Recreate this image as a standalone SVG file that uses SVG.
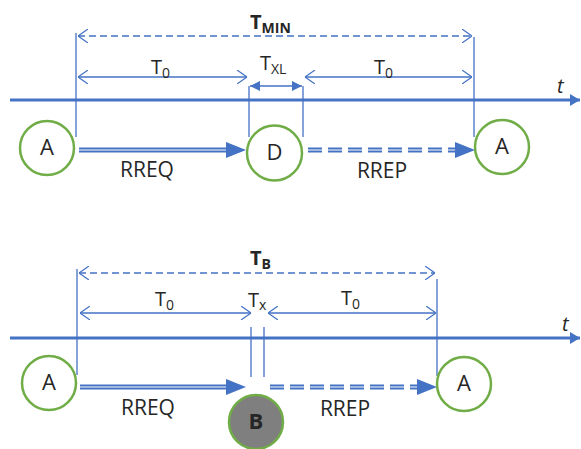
<svg xmlns="http://www.w3.org/2000/svg" width="581" height="449" viewBox="0 0 581 449">
<defs>
<marker id="open" viewBox="0 0 10 14" refX="10" refY="7" markerWidth="10" markerHeight="14" markerUnits="userSpaceOnUse" orient="auto-start-reverse">
<path d="M0,0 L10,7 L0,14" fill="none" stroke="#4472C4" stroke-width="1.2"/>
</marker>
<marker id="fill" viewBox="0 0 10 10" refX="10" refY="5" markerWidth="10" markerHeight="10" markerUnits="userSpaceOnUse" orient="auto-start-reverse">
<path d="M0,0 L10,5 L0,10 Z" fill="#4472C4"/>
</marker>
<marker id="axis" viewBox="0 0 10 12" refX="10" refY="6" markerWidth="10" markerHeight="12" markerUnits="userSpaceOnUse" orient="auto">
<path d="M0,0 L10,6 L0,12 Z" fill="#4472C4"/>
</marker>
</defs>
<style>
.axis{stroke:#4472C4;stroke-width:3;fill:none}
.thin{stroke:#4472C4;stroke-width:1.3;fill:none}
.dash{stroke:#4472C4;stroke-width:1.3;fill:none;stroke-dasharray:7,4}
.dbl{stroke:#4472C4;stroke-width:1.8;fill:none}
.node{fill:#fff;stroke:#70AD47;stroke-width:2.5}
.gray{fill:#7F7F7F;stroke:#70AD47;stroke-width:2.5}
text{font-family:"Open Sans","Liberation Sans",sans-serif;fill:#262626}
.lbl{font-size:21px;text-anchor:middle}
.nd{font-size:22px;text-anchor:middle}
.tl{font-size:20px}
.bold{font-weight:bold}
.sub{font-size:14px}
</style>
<g id="connectors">
<line class="axis" x1="10" y1="100" x2="580" y2="100" marker-end="url(#axis)"/>
<line class="thin" x1="76" y1="33" x2="76" y2="137"/>
<line class="thin" x1="249" y1="86" x2="249" y2="137"/>
<line class="thin" x1="303" y1="86" x2="303" y2="137"/>
<line class="thin" x1="474" y1="37" x2="474" y2="137"/>
<line class="dash" x1="78" y1="36" x2="472" y2="36" marker-start="url(#open)" marker-end="url(#open)"/>
<line class="thin" x1="78" y1="77" x2="247" y2="77" marker-start="url(#open)" marker-end="url(#open)"/>
<line class="thin" x1="305" y1="77" x2="472" y2="77" marker-start="url(#open)" marker-end="url(#open)"/>
<line class="thin" x1="250" y1="86" x2="302" y2="86" stroke-width="2" marker-start="url(#fill)" marker-end="url(#fill)"/>
<g>
<line class="dbl" x1="79" y1="148.5" x2="230" y2="148.5"/>
<line class="dbl" x1="79" y1="151.5" x2="230" y2="151.5"/>
<path d="M226,142 L246,150 L226,158 Z" fill="#4472C4"/>
</g>
<g>
<line class="dbl" x1="308" y1="148.5" x2="460" y2="148.5" stroke-dasharray="14,6"/>
<line class="dbl" x1="308" y1="151.5" x2="460" y2="151.5" stroke-dasharray="14,6"/>
<path d="M455,142 L475,150 L455,158 Z" fill="#4472C4"/>
</g>
<line class="axis" x1="10" y1="338" x2="580" y2="338" marker-end="url(#axis)"/>
<line class="thin" x1="77" y1="269" x2="77" y2="375"/>
<line class="thin" x1="251" y1="327" x2="251" y2="377"/>
<line class="thin" x1="264" y1="327" x2="264" y2="377"/>
<line class="thin" x1="437" y1="279" x2="437" y2="376"/>
<line class="dash" x1="79" y1="273" x2="435" y2="273" marker-start="url(#open)" marker-end="url(#open)"/>
<line class="thin" x1="80" y1="313" x2="251" y2="313" marker-start="url(#open)" marker-end="url(#open)"/>
<line class="thin" x1="268" y1="313" x2="436" y2="313" marker-start="url(#open)" marker-end="url(#open)"/>
<g>
<line class="dbl" x1="80" y1="385.5" x2="230" y2="385.5"/>
<line class="dbl" x1="80" y1="388.5" x2="230" y2="388.5"/>
<path d="M226,379 L246,387 L226,395 Z" fill="#4472C4"/>
</g>
<g>
<line class="dbl" x1="270" y1="385.5" x2="422" y2="385.5" stroke-dasharray="14,6"/>
<line class="dbl" x1="270" y1="388.5" x2="422" y2="388.5" stroke-dasharray="14,6"/>
<path d="M417,379 L437,387 L417,395 Z" fill="#4472C4"/>
</g>
</g>
<g id="labels">
<text x="250" y="29" class="tl bold">T<tspan class="sub bold" dy="4">MIN</tspan></text>
<text x="151" y="74" class="tl">T<tspan class="sub" dy="4">0</tspan></text>
<text x="260" y="70" class="tl">T<tspan class="sub" dy="4">XL</tspan></text>
<text x="374" y="74" class="tl">T<tspan class="sub" dy="4">0</tspan></text>
<text x="557" y="93" font-size="20" font-style="italic">t</text>
<text class="lbl" x="147" y="177">RREQ</text>
<text class="lbl" x="382" y="178">RREP</text>
<text x="250" y="265" class="tl bold">T<tspan class="sub bold" dy="4">B</tspan></text>
<text x="155" y="306" class="tl">T<tspan class="sub" dy="4">0</tspan></text>
<text x="248" y="307" class="tl">T<tspan class="sub" dy="3">x</tspan></text>
<text x="341" y="305" class="tl">T<tspan class="sub" dy="4">0</tspan></text>
<text x="562" y="331" font-size="20" font-style="italic">t</text>
<text class="lbl" x="148" y="415">RREQ</text>
<text class="lbl" x="345" y="416">RREP</text>
</g>
<g id="nodeA1"><circle class="node" cx="47" cy="148" r="27"/><text class="nd" x="47" y="155">A</text></g>
<g id="nodeD"><circle class="node" cx="274.5" cy="153" r="27.5"/><text class="nd" x="274.5" y="160">D</text></g>
<g id="nodeA2"><circle class="node" cx="502" cy="147" r="27"/><text class="nd" x="502" y="154">A</text></g>
<g id="nodeA3"><circle class="node" cx="49" cy="383" r="27"/><text class="nd" x="49" y="390">A</text></g>
<g id="nodeB"><circle class="gray" cx="256" cy="422" r="27"/><text class="nd bold" x="256" y="429" font-size="20">B</text></g>
<g id="nodeA4"><circle class="node" cx="464" cy="384" r="27"/><text class="nd" x="464" y="391">A</text></g>
</svg>
